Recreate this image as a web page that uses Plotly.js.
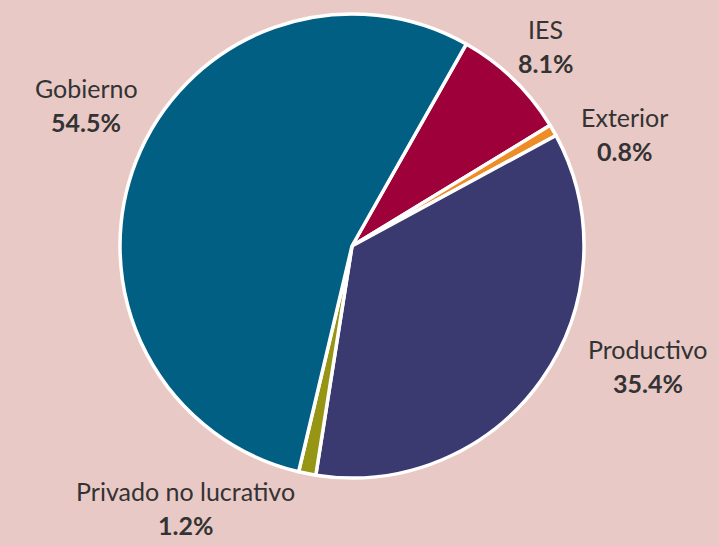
<!DOCTYPE html>
<html>
<head>
<meta charset="utf-8">
<script src="https://cdn.plot.ly/plotly-3.0.1.min.js"></script>
<style>html,body{margin:0;padding:0;background:#e9c9c5;}#chart{width:719px;height:546px;}</style>
</head>
<body>
<div id="chart"></div>
<script>
const categories = ["IES", "Exterior", "Productivo", "Privado no lucrativo", "Gobierno"];
const shares = [8.1, 0.8, 35.4, 1.2, 54.5];
const sliceColors = ["#9e0039", "#ee8c28", "#3a3970", "#979514", "#005f82"];

// label anchor positions in pixels (layout only)
const labelPos = {
  "IES": [545, 46],
  "Exterior": [624, 134],
  "Productivo": [648, 366],
  "Privado no lucrativo": [185, 508],
  "Gobierno": [86, 105]
};

const W = 719, H = 546;
const annotations = [];
categories.forEach((c, i) => {
  const p = labelPos[c];
  annotations.push({
    xref: 'paper', yref: 'paper', x: p[0] / W, y: 1 - (p[1] - 17) / H,
    text: c, showarrow: false, xanchor: 'center', yanchor: 'middle',
    font: {family: 'Lato, sans-serif', size: 25, color: '#333333'}
  });
  annotations.push({
    xref: 'paper', yref: 'paper', x: p[0] / W, y: 1 - (p[1] + 17) / H,
    text: '<b>' + shares[i].toFixed(1) + '%</b>', showarrow: false, xanchor: 'center', yanchor: 'middle',
    font: {family: 'Lato, sans-serif', size: 25, color: '#333333'}
  });
});

const trace = {
  type: 'pie',
  labels: categories,
  values: shares,
  sort: false,
  direction: 'clockwise',
  rotation: 29.5,
  textinfo: 'none',
  hoverinfo: 'label+percent',
  marker: {colors: sliceColors, line: {color: '#ffffff', width: 3.5}},
  domain: {x: [120 / W, 584 / W], y: [(H - 478) / H, (H - 14) / H]},
  showlegend: false
};

Plotly.newPlot('chart', [trace], {
  width: W, height: H,
  margin: {l: 0, r: 0, t: 0, b: 0},
  paper_bgcolor: '#e9c9c5',
  plot_bgcolor: '#e9c9c5',
  showlegend: false,
  annotations: annotations
}, {displayModeBar: false, staticPlot: true});
</script>
</body>
</html>
